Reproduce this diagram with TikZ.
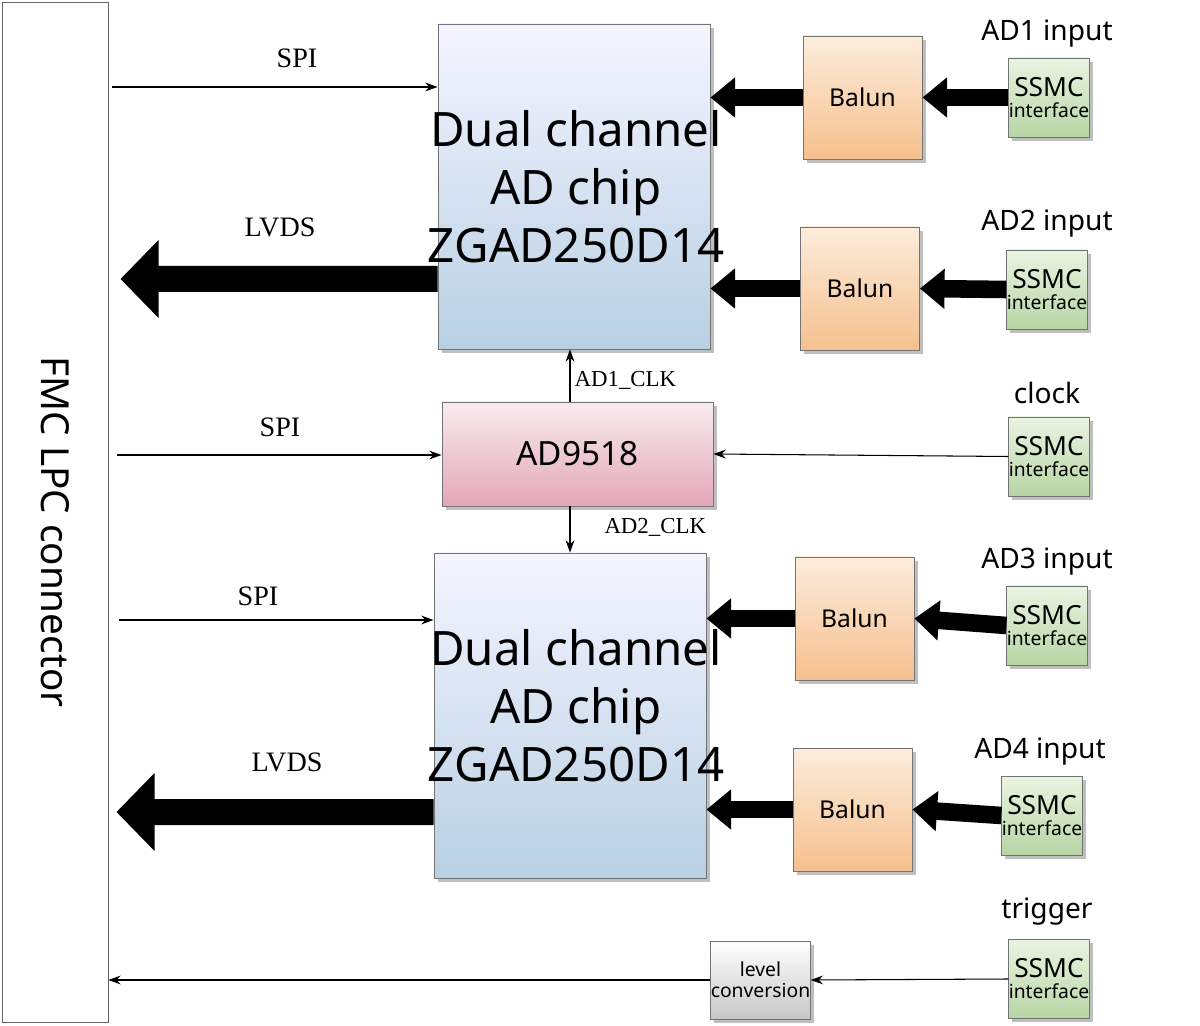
\documentclass[tikz,border=0pt]{standalone}
\usepackage{fontspec}
\setmainfont{Noto Sans}
\newfontfamily\serifl{Liberation Serif}
\usetikzlibrary{shadows,arrows.meta}
\begin{document}
\begin{tikzpicture}[x=0.02cm,y=-0.02cm,
 box/.style={draw=black!55,line width=0.5pt,inner sep=0pt,drop shadow={shadow xshift=2pt,shadow yshift=-2pt,opacity=0.5}},
 chip/.style={box,top color=blue!4!white,bottom color={rgb,255:red,184;green,208;blue,228}},
 pll/.style={box,top color={rgb,255:red,247;green,236;blue,239},bottom color={rgb,255:red,228;green,166;blue,184}},
 balun/.style={box,top color={rgb,255:red,252;green,236;blue,220},bottom color={rgb,255:red,246;green,192;blue,142}},
 ssmc/.style={box,top color={rgb,255:red,234;green,244;blue,226},bottom color={rgb,255:red,183;green,213;blue,164}},
 lvl/.style={box,top color=white,bottom color=black!22},
 thick/.style={line width=10pt,-{Triangle[length=14pt,width=22pt]}},
 thin/.style={line width=0.6pt,-{Stealth[length=7pt,width=5pt]}},
 slab/.style={font=\serifl\fontsize{16}{16}\selectfont},
 toplab/.style={font=\fontsize{16}{16}\selectfont},
 big/.style={font=\bfseries\fontsize{27}{33}\selectfont,align=center}]
\useasboundingbox (0,0) rectangle (1200,1026);
% FMC
\node[draw=black!60,fill=white,minimum width=106*0.02cm,minimum height=1020*0.02cm,inner sep=0] (fmc) at (55,512) {};
\node[rotate=-90,font=\fontsize{22}{22}\selectfont] at (55,532) {FMC LPC connector};
% chips
\node[chip,minimum width=272*0.02cm,minimum height=325*0.02cm] (c1) at (574,186.5) {};
\node[big] at (576,187) {Dual channel\\AD chip\\ZGAD250D14};
\node[chip,minimum width=272*0.02cm,minimum height=325*0.02cm] (c2) at (570,715.5) {};
\node[big] at (576,706) {Dual channel\\AD chip\\ZGAD250D14};
\node[pll,minimum width=271*0.02cm,minimum height=104*0.02cm,font=\bfseries\fontsize{19}{19}\selectfont] (pll) at (577.5,454) {AD9518};
% baluns
\foreach \n/\x/\y in {b1/862.5/97.5,b2/860/288.5,b3/854.5/618.5,b4/852.5/809.5}
 \node[balun,minimum width=119*0.02cm,minimum height=123*0.02cm,font=\bfseries\fontsize{14}{14}\selectfont] (\n) at (\x,\y) {Balun};
% ssmc
\foreach \n/\x/\y in {s1/1049/97.5,s2/1047/289.5,s3/1049/456.5,s4/1047/625.5,s5/1042/815.5,s6/1049/979}
 \node[ssmc,minimum width=76*0.02cm,minimum height=79*0.02cm,align=center,font=\fontsize{15}{14}\selectfont] (\n) at (\x,\y) {SSMC\\[-2pt]{\fontsize{11}{11}\selectfont interface}};
\node[lvl,minimum width=81*0.02cm,minimum height=78*0.02cm,align=center,font=\fontsize{11}{12}\selectfont] (lv) at (760.5,980) {level\\conversion};
% top labels
\node[toplab] at (1047,34) {AD1 input};
\node[toplab] at (1047,224) {AD2 input};
\node[toplab] at (1047,393) {clock};
\node[toplab] at (1047,562) {AD3 input};
\node[toplab] at (1040,752) {AD4 input};
\node[toplab] at (1047,912) {trigger};
% thick arrows
\foreach \s/\b/\c in {s1/b1/c1,s2/b2/c1,s4/b3/c2,s5/b4/c2}{
 \draw[thick] (\s.west) -- (\b.east);
 \draw[thick] (\b.west) -- (\b.west -| \c.east);}
% LVDS arrows
\foreach \y/\c in {279/c1,812/c2}
 \fill[black] (\c.east|-0,\y) ++(0,0) coordinate (t) (\c.west|-0,\y) ++(0,-13) -- ++(-279,0) -- ++(0,-26) -- ++(-38,39) -- ++(38,39) -- ++(0,-26) -- ++(279,0) -- cycle;
\node[slab] at (280,227) {LVDS};
\node[slab] at (287,762) {LVDS};
% SPI
\coordinate (p1) at (112,87); \draw[thin] (p1) -- (c1.west|-p1);
\coordinate (p2) at (117,455); \draw[thin] (p2) -- (pll.west|-p2);
\coordinate (p3) at (119,620); \draw[thin] (p3) -- (c2.west|-p3);
\node[slab] at (297,58) {SPI};
\node[slab] at (280,427) {SPI};
\node[slab] at (258,596) {SPI};
% clocks
\coordinate (k) at (570,0);
\draw[thin] (pll.north-|k) -- (c1.south-|k) node[pos=0.4,right,font=\serifl\fontsize{13}{13}\selectfont,xshift=-1pt] {AD1\_CLK};
\draw[thin] (pll.south-|k) -- (c2.north-|k) node[pos=0.45,right,font=\serifl\fontsize{13}{13}\selectfont,xshift=16pt] {AD2\_CLK};
\draw[thin] (s3.west) -- (pll.east);
\draw[thin] (s6.west) -- (lv.east);
\draw[thin] (lv.west) -- (lv.west-|fmc.east);
\end{tikzpicture}
\end{document}
